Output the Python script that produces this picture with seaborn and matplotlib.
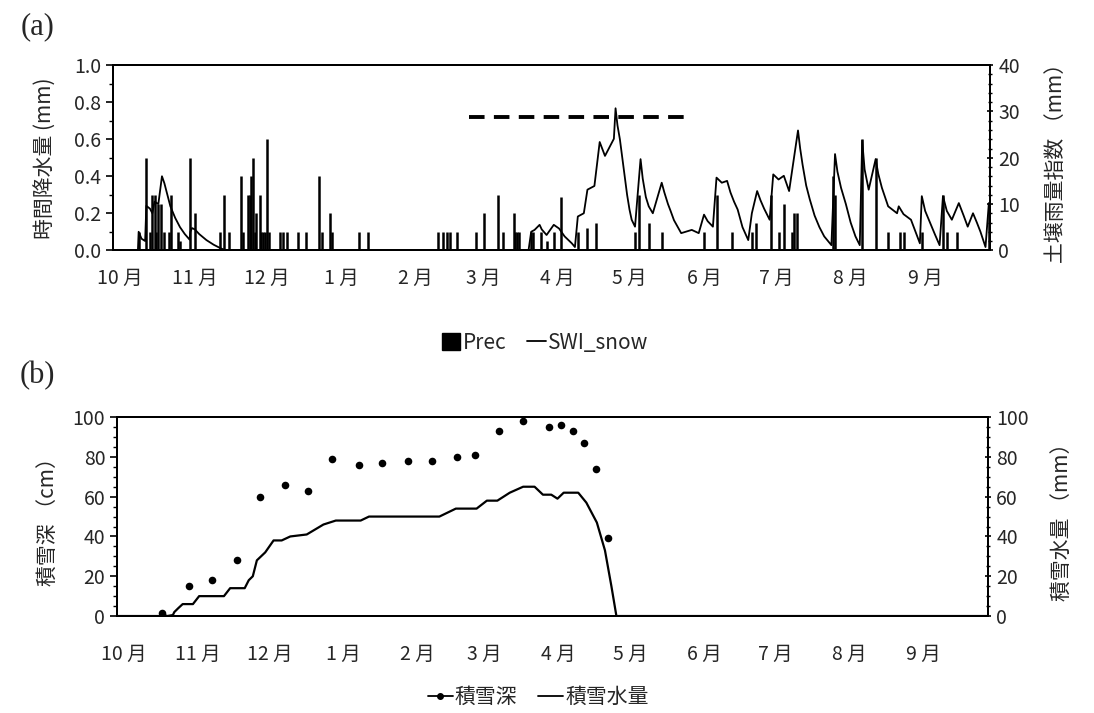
import numpy as np
import pandas as pd
import seaborn as sns
import matplotlib.pyplot as plt
from matplotlib.ticker import MultipleLocator
from matplotlib.lines import Line2D
from matplotlib.patches import Patch

sns.set_theme(style="ticks")
plt.rcParams['font.family'] = ['Noto Sans CJK JP', 'DejaVu Sans']

# x = days since Oct 1
month_labels = ["10 月", "11 月", "12 月", "1 月", "2 月", "3 月",
                "4 月", "5 月", "6 月", "7 月", "8 月", "9 月"]
month_start = [0, 31, 61, 92, 123, 151, 182, 212, 243, 273, 304, 335]

# (a) hourly precipitation (mm)
prec_day = [7.8, 11, 12.5, 13.5, 14.4, 15.2, 16, 17, 18.5, 20.5, 21.2, 24.2, 25,
            29.3, 31.2, 41.7, 43.2, 45.4, 50.5, 51.3, 53.4, 54, 54.6, 55.2, 56,
            56.8, 58.1, 58.8, 59.5, 60.3, 61.4, 62.2, 66.6, 67.7, 69.5, 74.2,
            77.5, 82.9, 84, 87.3, 88.2, 99.5, 103.1, 132.4, 134.6, 136, 137.5,
            140.4, 148.1, 151.4, 157.2, 159.4, 163.8, 164.5, 165.3, 166, 171.1,
            172, 175.3, 177.5, 180.5, 183.4, 190.5, 194.5, 198.2, 214.3, 216.1,
            220.2, 225.4, 243, 248.2, 254.8, 262.9, 264.7, 271, 274, 276.2,
            279.4, 280.6, 281.8, 296.8, 297.5, 308.6, 314.4, 319.6, 324.7,
            326.2, 333.6, 342.4, 343.9, 348.3, 361.5]
prec_mm = [0.1, 0.5, 0.1, 0.3, 0.3, 0.1, 0.25, 0.25, 0.1, 0.1, 0.3, 0.1, 0.05,
           0.5, 0.2, 0.1, 0.3, 0.1, 0.4, 0.1, 0.3, 0.3, 0.4, 0.5, 0.1,
           0.2, 0.3, 0.1, 0.1, 0.1, 0.6, 0.1, 0.1, 0.1, 0.1, 0.1,
           0.1, 0.4, 0.1, 0.2, 0.1, 0.1, 0.1, 0.1, 0.1, 0.1, 0.1,
           0.1, 0.1, 0.2, 0.3, 0.1, 0.2, 0.1, 0.1, 0.1, 0.1,
           0.1, 0.1, 0.05, 0.1, 0.29, 0.1, 0.12, 0.15, 0.1, 0.3,
           0.15, 0.1, 0.1, 0.3, 0.1, 0.1, 0.15, 0.3, 0.1, 0.25,
           0.1, 0.2, 0.2, 0.4, 0.3, 0.6, 0.5, 0.1, 0.1,
           0.1, 0.1, 0.3, 0.1, 0.1, 0.2]

# (a) soil water index with snow (mm)
swi_day = [-3, 7.5, 7.8, 9, 10.5, 11, 12.5, 13.5, 14.4, 16, 17.5, 18.5, 19.5,
           21, 23, 25, 27, 29, 29.3, 30, 31.2, 33, 36, 39, 42, 44,
           170, 171.1, 172.5, 174.6, 175.5, 177.5, 180.5, 182.7, 185, 188, 189.3,
           190.5, 193, 194.5, 197.4, 199.6, 201.8, 204, 205.5, 206.2, 207, 208,
           209, 210, 211, 212, 212.9, 214.3, 216.6, 217.5, 218.8, 220, 221.7,
           225.4, 226.5, 228, 229.1, 230.5, 232, 233.5, 237.9, 240.8, 243, 244.5,
           246.7, 248.2, 250.4, 252.6, 254, 255.5, 257, 259, 261.4, 262.9, 265.1,
           266.5, 268, 270.3, 271.8, 274, 276.2, 278.4, 282.1, 283, 284, 285.5,
           287, 289, 291, 293, 296, 297.5, 298.5, 300, 302, 304, 306, 307.8,
           308.8, 309.8, 311.5, 314.4, 315.5, 317, 319.6, 323.3, 324, 326, 329.1,
           331, 332.8, 333.6, 335, 337, 339, 341, 342.4, 344, 346.1, 349, 351,
           352.7, 354.9, 356.5, 358, 360.1, 361.5, 362]
swi_mm = [0, 0, 4, 2.5, 2, 9.6, 9, 8, 10.5, 10, 16, 14.5, 12.5,
          9.5, 7, 5, 3.5, 2.3, 4, 4.8, 4.5, 3.5, 2.2, 1.2, 0.4, 0,
          0, 4, 4.4, 5.5, 4.5, 3.3, 5.5, 4.7, 3, 1.5, 0.7,
          7.3, 8, 13.1, 13.9, 23.4, 20.4, 22.6, 24.1, 30.7, 27, 24,
          20, 16, 12, 8.8, 6.6, 5.1, 19.7, 15.5, 11.5, 9.5, 8,
          14.6, 12.5, 10, 8.5, 6.5, 5.1, 3.7, 4.4, 3.7, 7.7, 6.3,
          5.1, 15.7, 14.6, 15, 12.5, 10.5, 8.8, 5, 2.2, 8, 12.8,
          10.8, 9, 6.6, 16.4, 15.3, 16.1, 12.8, 25.9, 22, 18.5, 14,
          11, 7.5, 5, 3, 1.1, 20.8, 17, 13.5, 10, 6, 3, 1.1,
          23.7, 17.5, 13.1, 19.7, 16.5, 13.5, 9.5, 8, 9.5, 7.8, 6.6,
          4, 1.5, 11.7, 8.5, 6, 3.5, 1.1, 11.7, 8.5, 6.6, 10.2, 7.5,
          5.1, 8, 6, 4, 0.7, 10.2, 10]

dash_day = [145.4, 236]
dash_mm = [0.72, 0.72]

# (b) snow depth (cm)
depth_day = [15.8, 27.1, 37, 47.1, 57.1, 67.2, 77.1, 87.3, 98.3, 108.2, 119.1,
             129, 139.3, 147.1, 157, 167.2, 178.2, 183, 188, 192.9, 197.8, 202.8]
depth_cm = [1.3, 15, 18, 28, 60, 66, 63, 79, 76, 77, 78, 78, 80, 81, 93, 98, 95,
            96, 93, 87, 74, 39]

# (b) snow water equivalent (mm)
swe_day = [-3, 15, 16, 18, 20.4, 21, 22.7, 24.5, 28.8, 31.4, 41.8, 44.4, 50.5,
           52.2, 53.9, 55.6, 59.1, 62.6, 66, 69.6, 76.5, 83.5, 88.7, 99.1, 102.6,
           132.1, 139, 147.7, 152, 156.4, 161.6, 167.2, 172, 175.5, 179, 181.6,
           184.2, 190.3, 193.7, 198.1, 201.5, 204.2, 206.3, 362]
swe_mm = [0, 0, 1, 0, 0.5, 2, 4, 6, 6, 10, 10, 14, 14,
          18, 20, 28, 32, 38, 38, 40, 41, 46, 48, 48, 50,
          50, 54, 54, 58, 58, 62, 65, 65, 61, 61, 59,
          62, 62, 57, 47, 33, 15, 0, 0]

fig = plt.figure(figsize=(10.94, 7.13), dpi=100)
ax1 = fig.add_axes([0.103, 0.649, 0.802, 0.2595])
ax1r = ax1.twinx()
ax2 = fig.add_axes([0.107, 0.136, 0.796, 0.279])
ax2r = ax2.twinx()

# (a)
ax1.vlines(prec_day, 0, prec_mm, color="black", lw=1.8)
sns.lineplot(x=dash_day, y=dash_mm, ax=ax1, color="black", lw=2.8,
             linestyle=(0, (4, 2.4)))
sns.lineplot(x=swi_day, y=swi_mm, ax=ax1r, color="black", lw=1.3,
             sort=False, estimator=None)
ax1.set_ylim(0, 1.0)
ax1r.set_ylim(0, 40)
ax1.yaxis.set_major_locator(MultipleLocator(0.2))
ax1.yaxis.set_minor_locator(MultipleLocator(0.1))
ax1r.yaxis.set_major_locator(MultipleLocator(10))
ax1r.yaxis.set_minor_locator(MultipleLocator(2))
ax1.set_yticks(np.arange(0, 1.01, 0.2))
ax1.set_yticklabels([f"{v:.1f}" for v in np.arange(0, 1.01, 0.2)])
ax1.set_ylabel("時間降水量 (mm)", fontsize=15, labelpad=12)
ax1r.set_ylabel("土壌雨量指数 （mm）", fontsize=15, labelpad=18)

# (b)
sns.scatterplot(x=depth_day, y=depth_cm, ax=ax2, color="black", s=30,
                edgecolor="black", linewidth=0)
sns.lineplot(x=swe_day, y=swe_mm, ax=ax2r, color="black", lw=1.6,
             sort=False, estimator=None)
ax2.set_ylim(0, 100)
ax2r.set_ylim(0, 100)
for a in (ax2, ax2r):
    a.yaxis.set_major_locator(MultipleLocator(20))
    a.yaxis.set_minor_locator(MultipleLocator(5))
ax2.set_ylabel("積雪深 （cm）", fontsize=15, labelpad=10)
ax2r.set_ylabel("積雪水量 （mm）", fontsize=15, labelpad=16)

for ax, pad in ((ax1, 13), (ax2, 20)):
    ax.set_xlim(-3, 362)
    ax.set_xticks(month_start)
    ax.set_xticklabels(month_labels, fontsize=14)
    ax.tick_params(axis="x", length=0, pad=pad)

for a in (ax1, ax1r, ax2, ax2r):
    for s in a.spines.values():
        s.set_visible(True)
        s.set_linewidth(1.4)
        s.set_color("black")
    a.tick_params(axis="y", which="major", labelsize=14, length=5, width=1.2,
                  color="black")
    a.tick_params(axis="y", which="minor", length=3, width=1.0, color="black")
for a in (ax1r, ax2r):
    a.tick_params(axis="y", which="both", direction="inout")

fig.text(0.034, 0.962, "(a)", fontsize=22, family="Liberation Serif",
         ha="center", va="center")
fig.text(0.034, 0.473, "(b)", fontsize=22, family="Liberation Serif",
         ha="center", va="center")

h_top = [Patch(facecolor="black", edgecolor="black"),
         Line2D([], [], color="black", lw=1.3)]
fig.legend(h_top, ["Prec", "SWI_snow"], loc="center",
           bbox_to_anchor=(0.498, 0.519), ncol=2, frameon=False, fontsize=15,
           handlelength=0.9, handleheight=0.9, handletextpad=0.1,
           columnspacing=1.0)
h_bot = [Line2D([], [], color="black", lw=1.3, marker="o", markersize=4),
         Line2D([], [], color="black", lw=1.3)]
fig.legend(h_bot, ["積雪深", "積雪水量"], loc="center",
           bbox_to_anchor=(0.492, 0.022), ncol=2, frameon=False, fontsize=15,
           handlelength=1.2, handletextpad=0.1, columnspacing=1.0)

fig.savefig("out.png", dpi=100)
